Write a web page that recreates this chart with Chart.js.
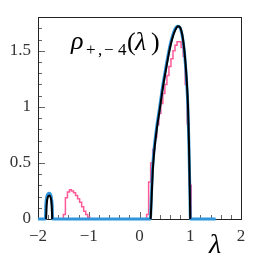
<!DOCTYPE html>
<html>
<head>
<meta charset="utf-8">
<script src="https://cdn.jsdelivr.net/npm/chart.js@4.4.1/dist/chart.umd.min.js"></script>
<style>
  html, body { margin: 0; padding: 0; background: #fff; }
  #wrap { width: 254px; height: 261px; }
</style>
</head>
<body>
<div id="wrap"><canvas id="c" width="254" height="261"></canvas></div>
<script>
// exact density rho_{+,-4}(lambda), black
const lamBulk = [0.22, 0.24, 0.26, 0.29, 0.34, 0.40, 0.46, 0.52, 0.58, 0.64, 0.70, 0.76, 0.80, 0.84, 0.88, 0.91, 0.935, 0.956, 0.975, 0.99, 1.0];
const rhoBulk = [0, 0.2, 0.42, 0.6, 0.8, 0.98, 1.17, 1.33, 1.48, 1.6, 1.68, 1.72, 1.71, 1.65, 1.52, 1.37, 1.2, 1.0, 0.67, 0.3, 0];
const lamIsland = [-1.84, -1.83, -1.81, -1.78, -1.75, -1.73, -1.72];
const rhoIsland = [0, 0.12, 0.19, 0.21, 0.19, 0.12, 0];

// blue curve (incl. zero baseline)
const lamBlue = [-2, -1.855, -1.845, -1.825, -1.78, -1.74, -1.72, -1.71, 0.215, 0.235, 0.255, 0.285, 0.335, 0.395, 0.455, 0.515, 0.575, 0.635, 0.695, 0.755, 0.795, 0.835, 0.875, 0.905, 0.93, 0.953, 0.973, 0.99, 1.003, 1.5];
const rhoBlue = [0, 0, 0.13, 0.2, 0.23, 0.2, 0.12, 0, 0, 0.22, 0.43, 0.61, 0.81, 0.99, 1.18, 1.34, 1.49, 1.61, 1.69, 1.72, 1.71, 1.65, 1.53, 1.38, 1.21, 1.0, 0.67, 0.3, 0, 0];

// pink histogram, bin left edges (width 0.04), last entry closes the histogram
const binsLeft = [-1.50, -1.46, -1.42, -1.38, -1.34, -1.30, -1.26, -1.22, -1.18, -1.14, -1.10, -1.06, -1.02, -0.98];
const histLeft = [0.04, 0.19, 0.24, 0.26, 0.25, 0.235, 0.21, 0.18, 0.15, 0.11, 0.07, 0.04, 0.015, 0];
const binsRight = [0.14, 0.18, 0.22, 0.26, 0.30, 0.34, 0.38, 0.42, 0.46, 0.50, 0.54, 0.58, 0.62, 0.66, 0.70, 0.74, 0.78, 0.82, 0.86, 0.90, 0.94, 0.98, 1.02];
const histRight = [0.04, 0.33, 0.5, 0.62, 0.73, 0.84, 0.94, 1.03, 1.12, 1.2, 1.28, 1.36, 1.43, 1.5, 1.55, 1.58, 1.58, 1.53, 1.45, 1.2, 0.85, 0.3, 0];

const xTickValues = [-2, -1, 0, 1, 2];
const xTickLabels = ['\u22122', '\u22121', '0', '1', '2'];
const yTickValues = [0, 0.5, 1, 1.5];
const yTickLabels = ['0', '0.5', '1', '1.5'];

const BLACK = '#000000';
const BLUE = '#2f95dc';
const PINK = '#ff5a98';
const SERIF = '"Liberation Serif", "DejaVu Serif", serif';

const pts = (xs, ys) => xs.map((x, i) => ({ x, y: ys[i] }));
const histPts = (edges, vals) => [{ x: edges[0], y: 0 }, ...pts(edges, vals)];

function labelFor(values, labels, v) {
  const i = values.findIndex(t => Math.abs(t - v) < 1e-6);
  return i >= 0 ? labels[i] : '';
}

// frame + inward ticks under the curves, formula labels on top
const frame = {
  id: 'frame',
  beforeDatasetsDraw(chart) {
    const { ctx, chartArea: a, scales: { x, y } } = chart;
    ctx.save();
    ctx.strokeStyle = '#666';
    ctx.lineWidth = 1;
    x.ticks.forEach(t => {
      const px = Math.round(x.getPixelForValue(t.value)) + 0.5;
      const len = labelFor(xTickValues, xTickLabels, t.value) ? 7 : 4;
      ctx.beginPath(); ctx.moveTo(px, a.bottom); ctx.lineTo(px, a.bottom - len); ctx.stroke();
    });
    y.ticks.forEach(t => {
      const py = Math.round(y.getPixelForValue(t.value)) + 0.5;
      const len = labelFor(yTickValues, yTickLabels, t.value) ? 7 : 4;
      ctx.beginPath(); ctx.moveTo(a.left, py); ctx.lineTo(a.left + len, py); ctx.stroke();
    });
    ctx.strokeStyle = '#222';
    ctx.strokeRect(Math.round(a.left) + 0.5, Math.round(a.top) + 0.5, Math.round(a.right - a.left), Math.round(a.bottom - a.top));
    ctx.restore();
  },
  afterDraw(chart) {
    const { ctx } = chart;
    ctx.save();
    ctx.fillStyle = '#000';
    ctx.textBaseline = 'alphabetic';
    ctx.font = 'italic 26px ' + SERIF;
    ctx.fillText('\u03c1', 71, 49);
    ctx.font = '17px ' + SERIF;
    ctx.fillText('+', 86, 55);
    ctx.fillText(',', 98, 55);
    ctx.fillText('\u2212', 104, 55);
    ctx.fillText('4', 118, 55);
    ctx.font = '26px ' + SERIF;
    ctx.fillText('(', 127, 50);
    ctx.fillText(')', 151, 50);
    ctx.font = 'italic 26px ' + SERIF;
    ctx.fillText('\u03bb', 135, 50);
    ctx.font = 'italic 28px ' + SERIF;
    ctx.fillText('\u03bb', 209, 253);
    ctx.restore();
  }
};

new Chart(document.getElementById('c'), {
  type: 'line',
  data: {
    datasets: [
      { data: pts(lamBulk, rhoBulk), borderColor: BLACK, borderWidth: 2, cubicInterpolationMode: 'monotone' },
      { data: pts(lamIsland, rhoIsland), borderColor: BLACK, borderWidth: 2, cubicInterpolationMode: 'monotone' },
      { data: pts(lamBlue, rhoBlue), borderColor: BLUE, borderWidth: 3, cubicInterpolationMode: 'monotone', clip: 2 },
      { data: histPts(binsLeft, histLeft), borderColor: PINK, borderWidth: 1.5, stepped: 'before' },
      { data: histPts(binsRight, histRight), borderColor: PINK, borderWidth: 1.5, stepped: 'before' }
    ]
  },
  options: {
    responsive: false,
    animation: false,
    layout: { padding: { top: 6, right: 13, left: 0, bottom: 0 } },
    elements: { point: { radius: 0 }, line: { fill: false } },
    plugins: { legend: { display: false }, tooltip: { enabled: false } },
    scales: {
      x: {
        type: 'linear', min: -2, max: 2,
        afterFit: s => { s.height = 42; },
        grid: { display: false, drawTicks: false },
        border: { display: false },
        ticks: {
          stepSize: 0.2, autoSkip: false, maxRotation: 0, padding: 7,
          color: '#333', font: { family: SERIF, size: 17 },
          callback: v => labelFor(xTickValues, xTickLabels, v)
        }
      },
      y: {
        type: 'linear', min: 0, max: 1.8,
        afterFit: s => { s.width = 38; },
        grid: { display: false, drawTicks: false },
        border: { display: false },
        ticks: {
          stepSize: 0.1, autoSkip: false, padding: 7,
          color: '#333', font: { family: SERIF, size: 17 },
          callback: v => labelFor(yTickValues, yTickLabels, v)
        }
      }
    }
  },
  plugins: [frame]
});
</script>
</body>
</html>
